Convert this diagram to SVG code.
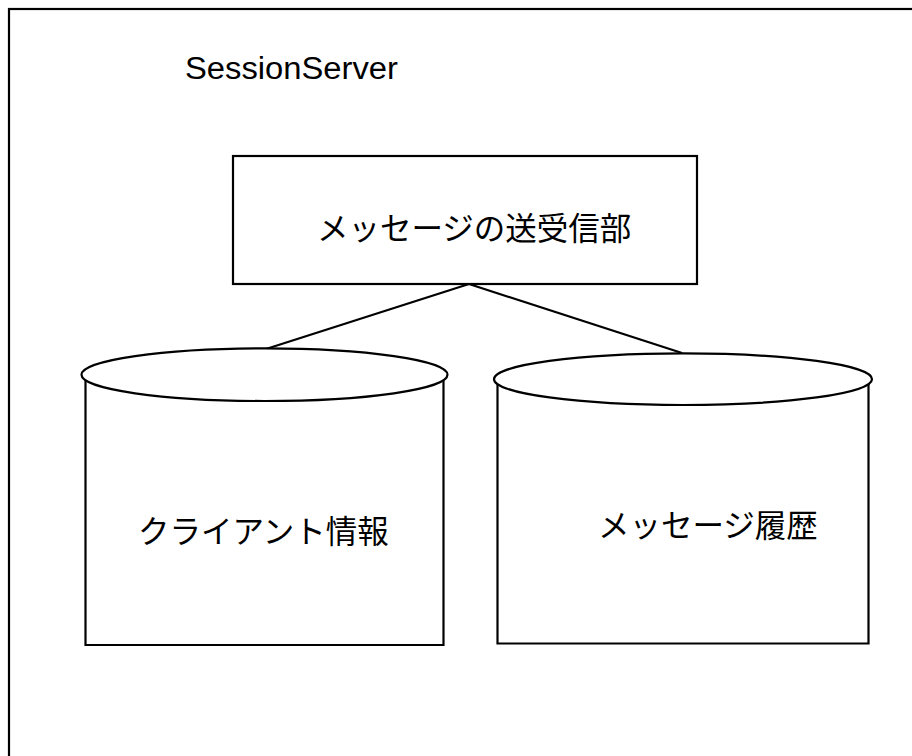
<svg xmlns="http://www.w3.org/2000/svg" width="912" height="756" viewBox="0 0 912 756">
<style>
.sh{fill:#fff;stroke:#000;stroke-width:2.2}
.ln{fill:none;stroke:#000;stroke-width:2.2}
.jp{font-family:"Noto Sans CJK JP","Noto Sans",sans-serif;font-size:31.5px;font-weight:400;fill:#000}
.en{font-family:"Liberation Sans",Arial,sans-serif;font-size:31px;fill:#000}
</style>
<rect width="912" height="756" fill="#fff"/>
<g id="frame">
<rect x="9" y="9" width="930" height="780" fill="none" stroke="#000" stroke-width="2.2"/>
<text class="en" x="185" y="79" textLength="213" lengthAdjust="spacingAndGlyphs">SessionServer</text>
</g>
<g id="connectors">
<line class="ln" x1="469" y1="284" x2="266" y2="349"/>
<line class="ln" x1="469" y1="284" x2="682" y2="353"/>
</g>
<g id="sender">
<rect class="sh" x="233" y="156" width="464" height="128"/>
<text class="jp" x="317" y="240">メッセージの送受信部</text>
</g>
<g id="client-info">
<path class="sh" d="M85.5,376 L85.5,645 L443.5,645 L443.5,376"/>
<ellipse class="sh" cx="264.5" cy="374.7" rx="183" ry="26.3"/>
<text class="jp" x="138" y="543">クライアント情報</text>
</g>
<g id="message-history">
<path class="sh" d="M497.5,380 L497.5,643.5 L868.5,643.5 L868.5,380"/>
<ellipse class="sh" cx="683" cy="379.2" rx="189" ry="25.8"/>
<text class="jp" x="598" y="537">メッセージ履歴</text>
</g>
</svg>
